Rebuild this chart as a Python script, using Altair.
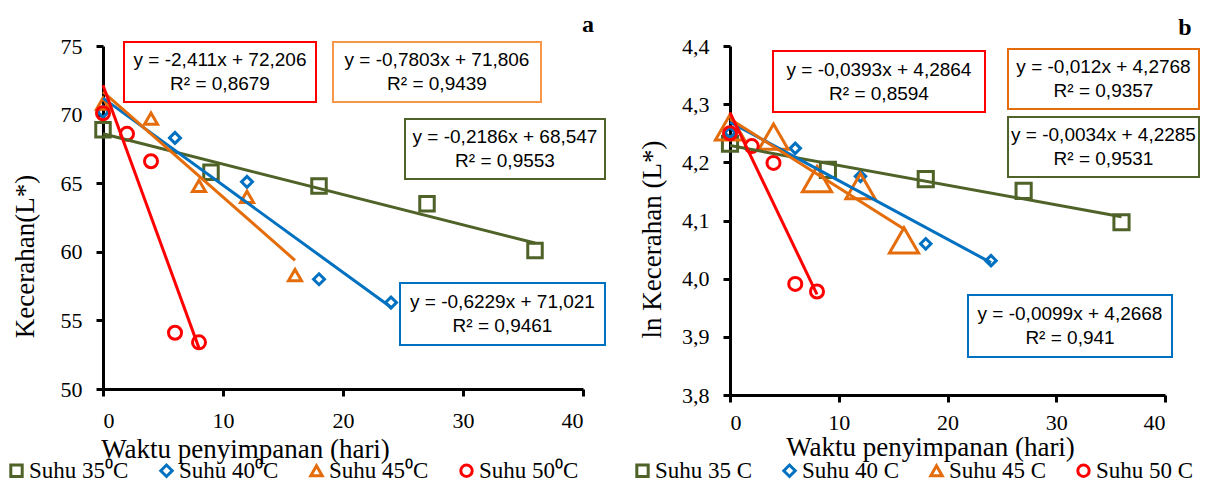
import altair as alt
import pandas as pd

# ---------------- data ----------------
days_35 = [0, 9, 18, 27, 36]
days_40 = [0, 6, 12, 18, 24]
days_45 = [0, 4, 8, 12, 16]
days_50 = [0, 2, 4, 6, 8]

L_35 = [68.9, 65.8, 64.8, 63.5, 60.1]
L_40 = [70.2, 68.3, 65.1, 58.0, 56.3]
L_45 = [70.8, 69.7, 64.8, 64.0, 58.3]
L_50 = [70.1, 68.6, 66.6, 54.1, 53.4]

lnL_35 = [4.232, 4.187, 4.171, 4.151, 4.097]
lnL_40 = [4.251, 4.224, 4.176, 4.060, 4.031]
lnL_45 = [4.260, 4.244, 4.171, 4.159, 4.066]
lnL_50 = [4.250, 4.228, 4.199, 3.991, 3.978]

labels_a = ["Suhu 35\u2070C", "Suhu 40\u2070C", "Suhu 45\u2070C", "Suhu 50\u2070C"]
labels_b = ["Suhu 35 C", "Suhu 40 C", "Suhu 45 C", "Suhu 50 C"]

eq_a = [["y = -0,2186x + 68,547", "R\u00b2 = 0,9553"],
        ["y = -0,6229x + 71,021", "R\u00b2 = 0,9461"],
        ["y = -0,7803x + 71,806", "R\u00b2 = 0,9439"],
        ["y = -2,411x + 72,206", "R\u00b2 = 0,8679"]]
eq_b = [["y = -0,0034x + 4,2285", "R\u00b2 = 0,9531"],
        ["y = -0,0099x + 4,2668", "R\u00b2 = 0,941"],
        ["y = -0,012x + 4,2768", "R\u00b2 = 0,9357"],
        ["y = -0,0393x + 4,2864", "R\u00b2 = 0,8594"]]

colors = ["#4F6228", "#0070C0", "#E46C0A", "#FF0000"]
box_colors_a = ["#4F6228", "#0070C0", "#F79646", "#FF0000"]
box_colors_b = ["#4F6228", "#0070C0", "#E46C0A", "#FF0000"]
shapes = ["square", "diamond", "triangle-up", "circle"]

days = [days_35, days_40, days_45, days_50]


def frame(values, labels):
    rows = []
    for lab, ds, vs in zip(labels, days, values):
        for d, v in zip(ds, vs):
            rows.append({"day": d, "val": v, "series": lab})
    return pd.DataFrame(rows)


df_a = frame([L_35, L_40, L_45, L_50], labels_a)
df_b = frame([lnL_35, lnL_40, lnL_45, lnL_50], labels_b)

SERIF = "Liberation Serif"
SANS = "Liberation Sans"


def panel(df, labels, eqs, box_cols, boxes, ydom, yticks, ylabel_expr, ytitle,
          w, h, ytitle_pos, xtitle_pos, xlabpad, letter, letter_pos, sizes, legend_pos):
    color_scale = alt.Scale(domain=labels, range=colors)
    shape_scale = alt.Scale(domain=labels, range=shapes)
    xenc = alt.X("day:Q", scale=alt.Scale(domain=[0, 40]),
                 axis=alt.Axis(values=[0, 10, 20, 30, 40], title="Waktu penyimpanan (hari)",
                               titleX=xtitle_pos[0], titleY=xtitle_pos[1], labelPadding=xlabpad,
                               titleBaseline="middle", titleAlign="center"))
    yenc = alt.Y("val:Q", scale=alt.Scale(domain=ydom, nice=False, zero=False),
                 axis=alt.Axis(values=yticks, labelExpr=ylabel_expr, title=ytitle,
                               titleX=ytitle_pos[0], titleY=ytitle_pos[1],
                               titleBaseline="middle", titleAlign="center"))
    size_cond = {"condition": [{"test": "datum.series == '%s'" % lab, "value": s}
                               for lab, s in zip(labels, sizes)],
                 "value": 150}
    base = alt.Chart(df)
    pts = base.mark_point(filled=False, strokeWidth=3, opacity=1).encode(
        x=xenc, y=yenc,
        color=alt.Color("series:N", scale=color_scale,
                        legend=alt.Legend(title=None, orient="none", direction="horizontal",
                                          legendX=legend_pos[0], legendY=legend_pos[1],
                                          columns=4, labelFont=SERIF, labelFontSize=23,
                                          labelColor="black", symbolStrokeWidth=3,
                                          symbolSize=130, columnPadding=legend_pos[2],
                                          labelOffset=1, padding=0)),
        shape=alt.Shape("series:N", scale=shape_scale),
        size=size_cond,
    )
    lines = base.transform_regression("day", "val", groupby=["series"]).mark_line(
        strokeWidth=3).encode(
        x="day:Q", y="val:Q",
        color=alt.Color("series:N", scale=color_scale, legend=None))

    layers = [pts, lines]
    one = alt.Chart(pd.DataFrame({"k": [0]}))
    for (l1, l2), c, (x1, x2, y1, y2) in zip(eqs, box_cols, boxes):
        rect = one.mark_rect(fill="white", stroke=c, strokeWidth=2).encode(
            x=alt.value(x1), x2=alt.value(x2), y=alt.value(y1), y2=alt.value(y2))
        cx = (x1 + x2) / 2
        cy = (y1 + y2) / 2
        t1 = one.mark_text(font=SANS, fontSize=19, color="black", baseline="middle").encode(
            x=alt.value(cx), y=alt.value(cy - 12), text=alt.value(l1))
        t2 = one.mark_text(font=SANS, fontSize=19, color="black", baseline="middle").encode(
            x=alt.value(cx), y=alt.value(cy + 12), text=alt.value(l2))
        layers += [rect, t1, t2]
    let = one.mark_text(font=SERIF, fontSize=24, fontWeight="bold", color="black",
                        baseline="middle").encode(
        x=alt.value(letter_pos[0]), y=alt.value(letter_pos[1]), text=alt.value(letter))
    layers.append(let)
    return alt.layer(*layers).properties(width=w, height=h)


pa = panel(df_a, labels_a, eq_a, box_colors_a,
           [[302, 502, 73, 133], [297, 502, 237, 299], [230, 438, -4, 56], [21, 213, -4, 56]],
           [50, 75], [50, 55, 60, 65, 70, 75],
           "format(datum.value, 'd')", "Kecerahan(L*)",
           480, 343, (-78, 210), (142, 60), 14, "a", (485, -21),
           [210, 120, 170, 170], (-98, 413, 25))
pb = panel(df_b, labels_b, eq_b, box_colors_b,
           [[278, 469, 71, 131], [238, 442, 249, 311], [278, 469, 3, 63], [43, 255, 5, 66]],
           [3.8, 4.4], [3.8, 3.9, 4.0, 4.1, 4.2, 4.3, 4.4],
           "replace(format(datum.value, '.1f'), '.', ',')", "ln Kecerahan (L*)",
           435, 349, (-78, 193), (200, 52), 10, "b", (455, -18),
           [230, 110, 850, 170], (-99, 413, 24))

chart = alt.hconcat(pa, pb, spacing=25).resolve_scale(
    color="independent", shape="independent", x="independent", y="independent"
).configure_view(stroke=None).configure_axis(
    grid=False, domainColor="black", domainWidth=3, tickColor="black", tickWidth=3,
    tickSize=7, labelFont=SERIF, labelFontSize=22, labelColor="black",
    titleFont=SERIF, titleFontSize=27, titleFontWeight="normal", titleColor="black"
).configure_axisY(labelPadding=14).properties(
    padding={"left": -3, "top": 5, "right": 0, "bottom": 0})

chart.save("out.html", embed_options={"renderer": "svg", "actions": False})
